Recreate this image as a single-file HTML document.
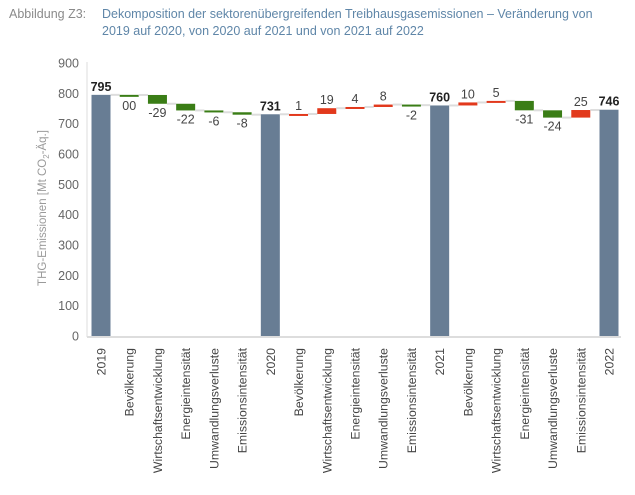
<!DOCTYPE html>
<html><head><meta charset="utf-8"><style>
body{margin:0;width:635px;height:495px;background:#fff;overflow:hidden;font-family:"Liberation Sans",sans-serif}
svg{position:absolute;left:0;top:0}
</style></head><body>
<svg id="c" width="635" height="495">
<text x="9" y="18" font-size="12.5" fill="#8a8a8a">Abbildung Z3:</text>
<text x="102" y="18" font-size="12.5" fill="#5f86a8">Dekomposition der sektorenübergreifenden Treibhausgasemissionen – Veränderung von</text>
<text x="102" y="35" font-size="12.5" fill="#5f86a8">2019 auf 2020, von 2020 auf 2021 und von 2021 auf 2022</text>
<text transform="translate(46,208) rotate(-90)" text-anchor="middle" font-size="11.5" fill="#9a9a9a">THG-Emissionen [Mt CO<tspan font-size="8" dy="3">2</tspan><tspan dy="-3">-Äq.]</tspan></text>
<line x1="87" y1="62" x2="87" y2="337" stroke="#ddd"/>
<line x1="87" y1="337" x2="621" y2="337" stroke="#ddd" stroke-width="2"/>
<g id="g"></g>
</svg>
<script>
const categories=["2019","Bevölkerung","Wirtschaftsentwicklung","Energieintensität","Umwandlungsverluste","Emissionsintensität","2020","Bevölkerung","Wirtschaftsentwicklung","Energieintensität","Umwandlungsverluste","Emissionsintensität","2021","Bevölkerung","Wirtschaftsentwicklung","Energieintensität","Umwandlungsverluste","Emissionsintensität","2022"];
const isTotal=[1,0,0,0,0,0,1,0,0,0,0,0,1,0,0,0,0,0,1];
const values=[795,-0.4,-29,-22,-6,-8,731,1,19,4,8,-2,760,10,5,-31,-24,25,746];
const valueLabels=["795","00","-29","-22","-6","-8","731","1","19","4","8","-2","760","10","5","-31","-24","25","746"];
const yTicks=[0,100,200,300,400,500,600,700,800,900];
const NS="http://www.w3.org/2000/svg",g=document.getElementById('g');
const y=v=>336-v*273/900;
const step=(609-101)/(categories.length-1);
const x=i=>101+i*step;
const bw=19;
function mk(t,a){const e=document.createElementNS(NS,t);for(const k in a)e.setAttribute(k,a[k]);g.appendChild(e);return e;}
yTicks.forEach(t=>{const e=mk('text',{x:79,y:y(t)+4.5,'text-anchor':'end','font-size':12.5,fill:'#666'});e.textContent=t;

});
let run=0;
categories.forEach((c,i)=>{
 const cx=x(i);let top,bot,col,ly,bold=false;
 const prev=run;
 if(isTotal[i]){run=values[i];top=y(run);bot=y(0);col='#687d94';ly=top-4;bold=true;}
 else{run=prev+values[i];const a=y(Math.max(prev,run)),b=y(Math.min(prev,run));top=a;bot=Math.max(b,a+2);
  col=values[i]>=0?'#e2391c':'#3a7d16';ly=values[i]>=0?top-4:bot+13;}
 if(i>0){const l=mk('line',{x1:x(i-1)+bw/2,x2:cx-bw/2,y1:y(prev),y2:y(prev),stroke:'#ddd','stroke-width':2});
  
  }
 const r=mk('rect',{x:cx-bw/2,y:top,width:bw,height:bot-top,fill:col});
 
 
 const t=mk('text',{x:cx,y:ly,'text-anchor':'middle','font-size':12.5,fill:bold?'#222':'#444','font-weight':bold?'bold':'normal'});
 t.textContent=valueLabels[i];
 
 
 const xl=mk('text',{transform:`translate(${cx+4.5},348) rotate(-90)`,'text-anchor':'end','font-size':12.3,fill:'#444'});
 xl.textContent=c;
 
 
});
</script>
</body></html>
